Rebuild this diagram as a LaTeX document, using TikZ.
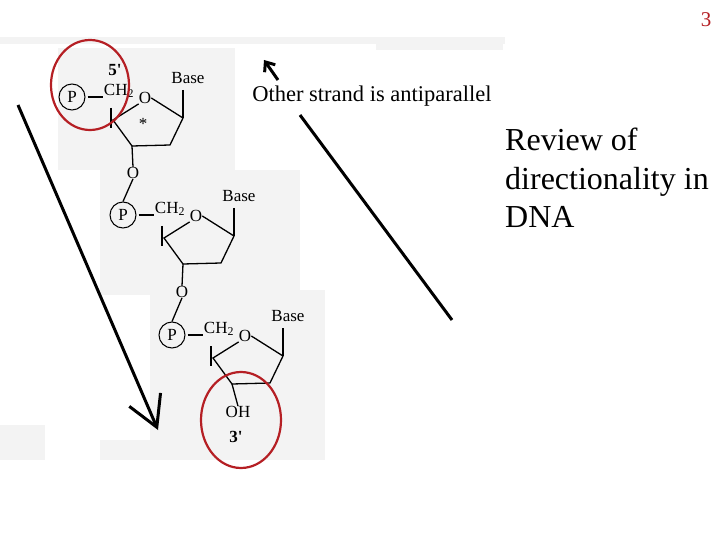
\documentclass[tikz,border=0pt]{standalone}
\usepackage{fontspec}
\setmainfont{Liberation Serif}
\usetikzlibrary{arrows.meta,shapes.geometric}
\definecolor{dred}{HTML}{B51F24}
\definecolor{bg}{HTML}{F3F3F3}
\tikzset{
  bond/.style={line width=1.3pt},
  chem/.style={inner sep=0pt, font=\fontsize{17}{17}\selectfont},
  pcirc/.style={circle, draw, line width=1pt, minimum size=26pt, inner sep=0pt, font=\fontsize{17}{17}\selectfont},
  redring/.style={draw=dred, line width=2.2pt},
  bigarrow/.style={line width=3pt}
}
\begin{document}
\begin{tikzpicture}[x=1pt,y=-1pt]
\useasboundingbox (0,0) rectangle (720,540);
% background patches
\fill[bg] (0,37) rectangle (505,44);
\fill[bg] (376,38) rectangle (503,50);
\fill[bg] (58,48) rectangle (235,170);
\fill[bg] (100,170) rectangle (300,295);
\fill[bg] (150,290) rectangle (325,460);
\fill[bg] (0,425) rectangle (45,460);
\fill[bg] (100,440) rectangle (325,460);
% nucleotides
\foreach \i/\dx/\dy in {1/0/0,2/51/118,3/100/238}{
  \begin{scope}[shift={(\dx,\dy)}]
  \node[pcirc] (P\i) at (72,97) {P};
  \node[chem] (C\i) at (119,91) {CH\textsubscript{2}};
  \node[chem] (O\i) at (145,98) {O};
  \node[chem] (B\i) at (188,78) {Base};
  \coordinate (c1\i) at (183,118);
  \coordinate (c2\i) at (170,145);
  \coordinate (c3\i) at (132,146);
  \coordinate (c4\i) at (113,120);
  \draw[bond] (P\i.east) ++(2,0) -- ++(15,0);
  \draw[bond] (O\i.east) -- (c1\i) -- (c2\i) -- (c3\i) -- (c4\i) -- (O\i.south west);
  \draw[bond] (183,90) -- (c1\i);
  \draw[bond] (111,108) -- (111,128);
  \end{scope}
}
\node[chem] (star) at (143,124) {*};
\node[chem, font=\bfseries\fontsize{17}{17}\selectfont] (five) at (115,70) {5\textquotesingle};
% links
\node[chem] (L1) at (133,173) {O};
\node[chem] (L2) at (182,292) {O};
\draw[bond] (c31) -- (L1.north);
\draw[bond] (L1.south) -- (P2.north);
\draw[bond] (c32) -- (L2.north);
\draw[bond] (L2.south) -- (P3.north);
\node[chem] (OH) at (238,412) {OH};
\node[chem, font=\bfseries\fontsize{17}{17}\selectfont] (three) at (236,437) {3\textquotesingle};
\draw[bond] (c33) -- (OH.north);
% red rings
\node[redring, ellipse, minimum width=78pt, minimum height=90pt] (r1) at (90,85) {};
\node[redring, ellipse, minimum width=80pt, minimum height=96pt] (r2) at (241,420) {};
% arrows
\coordinate (a1) at (18,105);
\coordinate (a2) at (158,430);
\draw[bigarrow, -{Straight Barb[length=30pt, width=34pt, line width=3pt]}] (a1) -- (a2);
\coordinate (b1) at (452,320);
\coordinate (b2) at (300,115);
\draw[bigarrow] (b1) -- (b2);
\coordinate (s1) at (278,80);
\coordinate (s2) at (264,60);
\draw[bigarrow, -{Straight Barb[length=8pt, width=13pt, line width=3pt]}] (s1) -- (s2);
\node[font=\fontsize{22.5}{23}\selectfont, inner sep=0pt] (other) at (372,96) {Other strand is antiparallel};
\node[anchor=north west, align=left, inner sep=0pt, font=\fontsize{32}{38.5}\selectfont] (rev) at (505,128) {Review of\\directionality in\\DNA};
\node[text=dred, font=\fontsize{21}{21}\selectfont, inner sep=0pt] (num) at (706,20) {3};
\end{tikzpicture}
\end{document}
